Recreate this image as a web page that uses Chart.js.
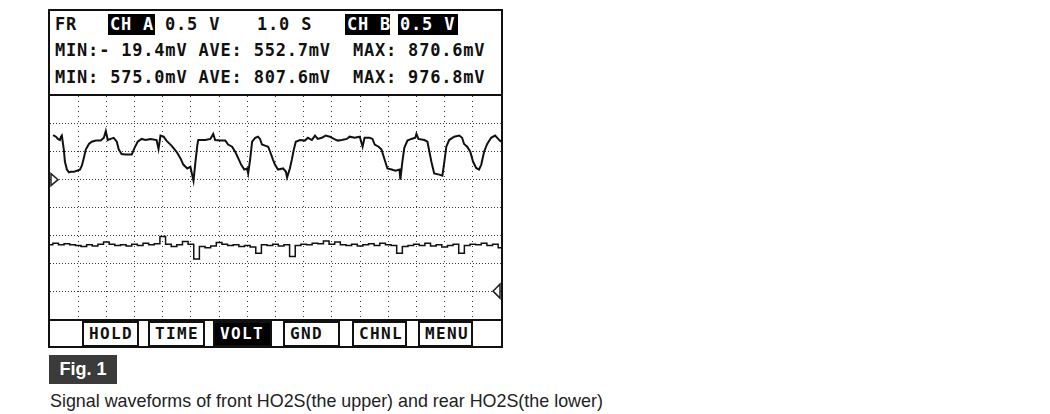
<!DOCTYPE html>
<html>
<head>
<meta charset="utf-8">
<script src="https://cdn.jsdelivr.net/npm/chart.js@4/dist/chart.umd.min.js"></script>
<style>
  body { margin: 0; background: #fff; width: 1050px; height: 414px; overflow: hidden; position: relative; }
  .abs { position: absolute; }
  .m { position: absolute; font: bold 17px "DejaVu Sans Mono", monospace; letter-spacing: 0.8px; white-space: pre; line-height: 20px; color: #111; }
  .inv { background: #000; color: #fff; height: 21px; line-height: 21px; padding-left: 2px; box-sizing: border-box; }
  .btn { position: absolute; top: 321px; height: 26px; border: 2px solid #111; box-sizing: border-box; font: bold 16px "DejaVu Sans Mono", monospace; letter-spacing: 1.4px; line-height: 22px; padding-left: 5px; background: #fff; color: #111; }
  .btn.on { background: #000; color: #fff; }
</style>
</head>
<body>
<div class="abs" style="left:48px;top:9px;width:455px;height:339px;border:2px solid #111;box-sizing:border-box"></div>

<div class="m" style="left:55px;top:14px">FR</div>
<div class="m inv" style="left:108px;top:14px;width:47px">CH A</div>
<div class="m" style="left:165px;top:14px">0.5 V</div>
<div class="m" style="left:257px;top:14px">1.0 S</div>
<div class="m inv" style="left:345px;top:14px;width:45px">CH B</div>
<div class="m inv" style="left:398px;top:14px;width:60px">0.5 V</div>
<div class="m" style="left:55px;top:40px">MIN:- 19.4mV AVE: 552.7mV  MAX: 870.6mV</div>
<div class="m" style="left:55px;top:67px">MIN: 575.0mV AVE: 807.6mV  MAX: 976.8mV</div>

<div class="abs" style="left:50px;top:94px;width:451px;border-top:2px solid #111"></div>
<canvas id="scope" class="abs" style="left:50px;top:96px" width="451" height="223"></canvas>
<div class="abs" style="left:50px;top:319px;width:451px;border-top:2px solid #111"></div>

<div class="btn" style="left:82px;width:57px">HOLD</div>
<div class="btn" style="left:148px;width:57px">TIME</div>
<div class="btn on" style="left:213px;width:59px">VOLT</div>
<div class="btn" style="left:283px;width:57px">GND</div>
<div class="btn" style="left:352px;width:55px">CHNL</div>
<div class="btn" style="left:418px;width:55px">MENU</div>

<div class="abs" style="left:49px;top:355px;width:68px;height:29px;background:#3b3b3b;color:#fff;font:bold 18px 'Liberation Sans',Arial,sans-serif;line-height:29px;text-align:center">Fig. 1</div>
<div class="abs" style="left:50px;top:391px;font:17.9px 'Liberation Sans',Arial,sans-serif;color:#222;white-space:nowrap">Signal waveforms of front HO2S(the upper) and rear HO2S(the lower)</div>

<script>
// channel A (front HO2S) - seconds / volts
let timeA = [0.11,0.21,0.28,0.35,0.39,0.42,0.49,0.53,0.60,0.67,0.74,0.85,0.95,1.06,1.13,1.20,1.27,1.38,1.48,1.63,
  1.80,1.91,1.98,2.05,2.15,2.26,2.37,2.44,2.54,2.68,2.90,3.00,3.11,3.25,3.39,3.57,3.78,3.85,3.92,4.03,
  4.13,4.31,4.49,4.63,4.73,4.87,4.98,5.09,5.16,5.23,
  5.26,5.51,5.69,5.79,5.86,6.04,6.22,6.32,6.46,6.57,6.68,6.78,6.89,6.99,7.03,7.10,7.17,7.28,7.38,7.45,
  7.52,7.63,7.74,7.81,7.91,7.98,8.09,8.27,8.37,8.41,8.51,8.58,8.65,8.72,8.87,9.04,9.15,9.29,9.40,9.50,
  9.64,9.78,9.93,10.07,10.21,10.35,10.53,
  10.63,10.81,10.99,11.09,11.16,11.34,11.44,11.52,11.66,11.76,11.87,11.97,12.12,12.26,12.40,12.43,12.50,12.57,12.68,12.82,
  12.96,13.00,13.07,13.28,13.39,13.46,13.53,13.63,13.81,13.92,13.99,14.06,14.16,14.34,14.52,14.62,14.69,14.80,14.91,15.01,
  15.12,15.22,15.30,15.40,15.51,15.65,15.79,15.90,16.00];
let voltA = [0.80,0.77,0.73,0.71,0.77,0.79,0.54,0.32,0.18,0.13,0.14,0.14,0.16,0.18,0.25,0.39,0.54,0.64,0.68,0.70,
  0.70,0.75,0.87,0.71,0.73,0.75,0.68,0.54,0.46,0.45,0.45,0.57,0.68,0.73,0.71,0.73,0.71,0.55,0.79,0.77,
  0.70,0.61,0.50,0.38,0.27,0.20,0.23,-0.02,0.32,0.63,
  0.71,0.71,0.73,0.82,0.71,0.70,0.70,0.63,0.59,0.50,0.38,0.27,0.18,0.20,0.11,0.36,0.68,0.75,0.77,0.73,
  0.63,0.61,0.59,0.50,0.36,0.27,0.18,0.20,0.14,0.04,0.20,0.36,0.54,0.68,0.71,0.70,0.75,0.71,0.79,0.73,
  0.75,0.79,0.77,0.73,0.70,0.71,0.73,
  0.77,0.75,0.77,0.59,0.75,0.75,0.73,0.63,0.59,0.54,0.36,0.20,0.18,0.16,0.18,0.00,0.32,0.57,0.70,0.73,
  0.75,0.82,0.73,0.71,0.68,0.50,0.32,0.11,0.09,0.07,0.32,0.59,0.71,0.77,0.79,0.75,0.64,0.59,0.50,0.32,
  0.21,0.18,0.27,0.50,0.64,0.75,0.79,0.73,0.68];

// channel B (rear HO2S)
let timeB = [0.0,0.2,0.4,0.6,0.8,1.0,1.2,1.4,1.6,1.8,2.0,2.2,2.4,2.6,2.8,3.0,3.2,3.4,3.6,3.8,
  4.0,4.2,4.4,4.6,4.8,5.0,5.2,5.4,5.6,5.8,6.0,6.2,6.4,6.6,6.8,7.0,7.2,7.4,7.6,7.8,
  8.0,8.2,8.4,8.6,8.8,9.0,9.2,9.4,9.6,9.8,10.0,10.2,10.4,10.6,10.8,11.0,11.2,11.4,11.6,11.8,
  12.0,12.2,12.4,12.6,12.8,13.0,13.2,13.4,13.6,13.8,14.0,14.2,14.4,14.6,14.8,15.0,15.2,15.4,15.6,15.8,16.0];
let voltB = [0.83,0.86,0.83,0.85,0.83,0.82,0.80,0.83,0.81,0.84,0.88,0.84,0.82,0.83,0.81,0.84,0.82,0.86,0.83,0.85,
  0.98,0.84,0.80,0.83,0.89,0.84,0.575,0.80,0.78,0.81,0.87,0.84,0.82,0.83,0.80,0.82,0.79,0.68,0.83,0.82,
  0.84,0.81,0.83,0.62,0.82,0.84,0.83,0.86,0.85,0.90,0.84,0.88,0.83,0.82,0.84,0.81,0.83,0.85,0.82,0.86,
  0.83,0.82,0.68,0.80,0.82,0.84,0.82,0.86,0.81,0.83,0.79,0.82,0.84,0.68,0.82,0.84,0.83,0.86,0.82,0.84,0.78];

// 16 div x 1.0 S, 8 div x 0.5 V
let timeMin = 0, timeMax = 16, timeStep = 1;
let chAmin = -2.5, chAmax = 1.5, chBmin = -0.5, chBmax = 3.5, voltStep = 0.5;

function edgeColor(ctx, lo, hi) {
  if (!ctx.tick) return 'transparent';
  let v = ctx.tick.value;
  return (Math.abs(v - lo) < 1e-6 || Math.abs(v - hi) < 1e-6) ? 'transparent' : '#3a3a3a';
}

// ground markers of both channels
let markers = {
  id: 'markers',
  afterDatasetsDraw(chart) {
    let c = chart.ctx, a = chart.chartArea;
    let ya = chart.scales.yA.getPixelForValue(0);
    let yb = chart.scales.yB.getPixelForValue(0);
    c.save();
    c.strokeStyle = '#222';
    c.fillStyle = '#fff';
    c.lineWidth = 1.5;
    c.beginPath();
    c.moveTo(a.left + 1, ya - 6); c.lineTo(a.left + 8, ya); c.lineTo(a.left + 1, ya + 6); c.closePath();
    c.fill(); c.stroke();
    c.beginPath();
    c.moveTo(a.right - 1, yb - 7); c.lineTo(a.right - 8, yb); c.lineTo(a.right - 1, yb + 7); c.closePath();
    c.fill(); c.stroke();
    c.restore();
  }
};

new Chart(document.getElementById('scope'), {
  type: 'line',
  data: {
    datasets: [{
      label: 'CH A',
      data: timeA.map((t, i) => ({x: t, y: voltA[i]})),
      yAxisID: 'yA',
      borderColor: '#111',
      borderWidth: 2,
      pointRadius: 0,
      tension: 0
    }, {
      label: 'CH B',
      data: timeB.map((t, i) => ({x: t, y: voltB[i]})),
      yAxisID: 'yB',
      borderColor: '#111',
      borderWidth: 1.5,
      pointRadius: 0,
      stepped: 'middle'
    }]
  },
  options: {
    responsive: false,
    animation: false,
    layout: { padding: 0 },
    plugins: { legend: { display: false }, tooltip: { enabled: false } },
    scales: {
      x: {
        type: 'linear', min: timeMin, max: timeMax,
        ticks: { display: false, stepSize: timeStep },
        grid: { drawTicks: false, color: ctx => edgeColor(ctx, timeMin, timeMax), lineWidth: 1 },
        border: { display: false, dash: [1, 4] },
        afterFit: s => { s.height = 0; }
      },
      yA: {
        position: 'left', min: chAmin, max: chAmax,
        ticks: { display: false, stepSize: voltStep },
        grid: { drawTicks: false, color: ctx => edgeColor(ctx, chAmin, chAmax), lineWidth: 1 },
        border: { display: false, dash: [1, 2] },
        afterFit: s => { s.width = 0; }
      },
      yB: {
        position: 'right', min: chBmin, max: chBmax, display: false
      }
    }
  },
  plugins: [markers]
});
</script>
</body>
</html>
